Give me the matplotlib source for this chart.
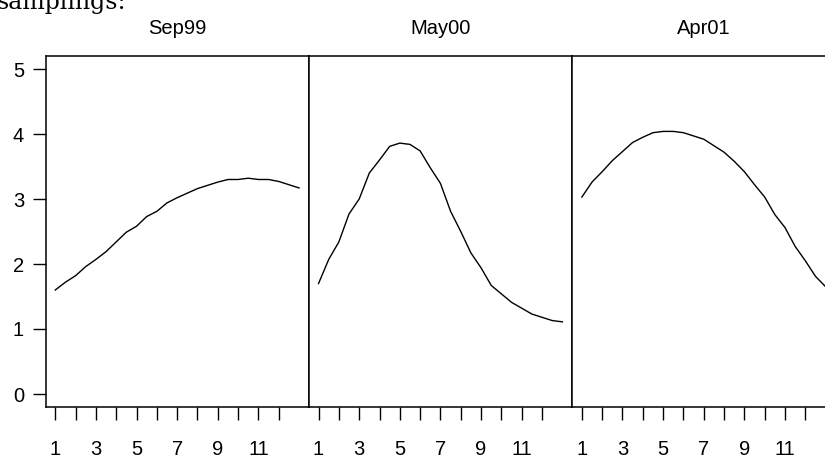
import matplotlib
matplotlib.use("Agg")
import matplotlib.pyplot as plt
import numpy as np

plt.rcParams['font.family'] = ['Liberation Sans', 'DejaVu Sans']

# half-month steps from 1 to 13
x = np.arange(1, 13.01, 0.5)

panels = ["Sep99", "May00", "Apr01"]

sep99 = [1.60, 1.72, 1.82, 1.96, 2.07, 2.19, 2.34, 2.49, 2.58, 2.73, 2.81, 2.94, 3.02,
         3.09, 3.16, 3.21, 3.26, 3.30, 3.30, 3.32, 3.30, 3.30, 3.27, 3.22, 3.17]
may00 = [1.70, 2.07, 2.34, 2.77, 3.00, 3.40, 3.60, 3.81, 3.86, 3.84, 3.74, 3.48, 3.24,
         2.81, 2.50, 2.17, 1.94, 1.67, 1.54, 1.41, 1.32, 1.23, 1.18, 1.13, 1.11]
apr01 = [3.03, 3.26, 3.42, 3.59, 3.73, 3.87, 3.95, 4.02, 4.04, 4.04, 4.02, 3.97, 3.92,
         3.82, 3.72, 3.58, 3.42, 3.22, 3.03, 2.76, 2.56, 2.27, 2.05, 1.81, 1.65]
series = [sep99, may00, apr01]

xticks = list(range(1, 13))
xticklabels = [str(t) if t % 2 == 1 else "" for t in xticks]
yticks = [0, 1, 2, 3, 4, 5]

W, H = 825, 458
fig = plt.figure(figsize=(W / 100, H / 100), dpi=100)

# bit of the surrounding document text, cut by the top edge
fig.text(-3 / W, (H - 8.5) / H, "samplings:", family="DejaVu Serif",
         fontsize=17, ha="left", va="baseline")

left0 = 45.5
pw = 263.3
bottom = (H - 407) / H
height = 351 / H

for i, (name, ys) in enumerate(zip(panels, series)):
    ax = fig.add_axes([(left0 + i * pw) / W, bottom, pw / W, height])
    ax.plot(x, ys, color="black", lw=1.0)
    ax.set_xlim(0.52, 13.48)
    ax.set_ylim(-0.2, 5.2)
    ax.set_xticks(xticks)
    ax.set_xticklabels(xticklabels)
    ax.tick_params(axis="x", direction="out", length=9.5, width=1.0, pad=14,
                   labelsize=14.5)
    if i == 0:
        ax.set_yticks(yticks)
        ax.tick_params(axis="y", direction="out", length=9.5, width=1.0, pad=6,
                       labelsize=14.5)
    else:
        ax.set_yticks([])
    for s in ax.spines.values():
        s.set_linewidth(1.1)
    ax.set_title(name, fontsize=14.5, pad=16)

fig.savefig("out.png", dpi=100)
